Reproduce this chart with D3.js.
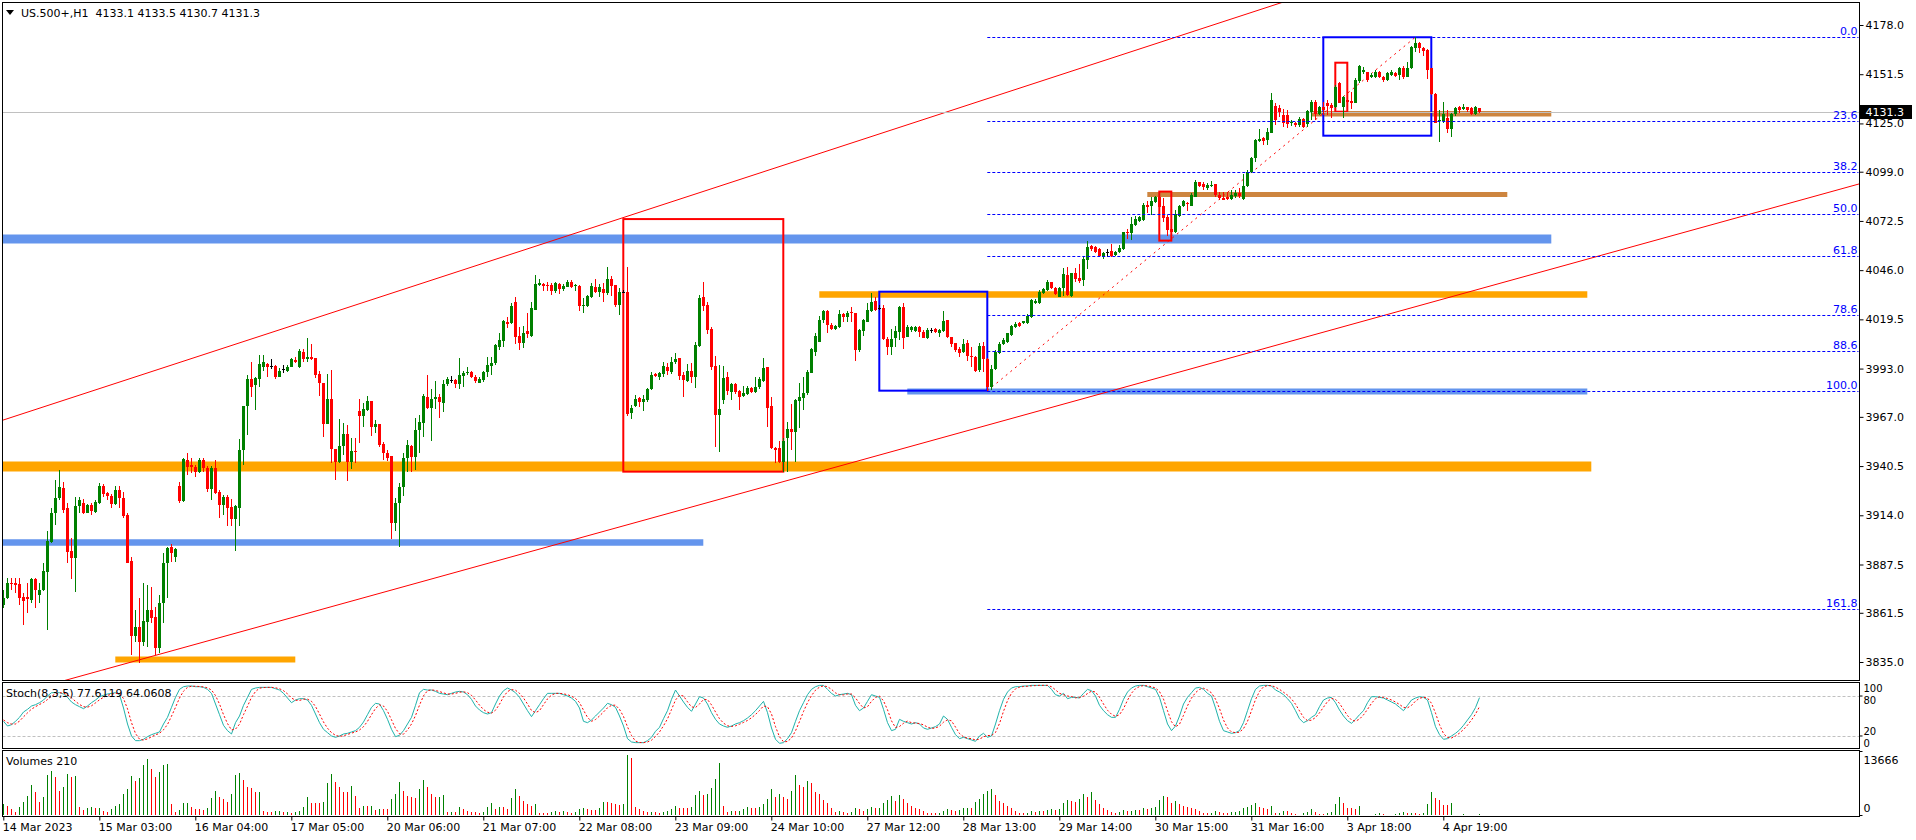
<!DOCTYPE html>
<html>
<head>
<meta charset="UTF-8">
<title>US.500+,H1</title>
<script src="https://cdnjs.cloudflare.com/ajax/libs/d3/7.8.5/d3.min.js"></script>
<style>
  body { margin: 0; padding: 0; background: #ffffff; }
  svg text { font-family: "DejaVu Sans", sans-serif; font-size: 11px; }
</style>
</head>
<body>
<script>
// ---- bars (H1, 14 Mar 02:00 .. 5 Apr) ----
var opens = [
 3865.7,3869.3,3877.4,3877.4,3876.8,3870.2,3869.8,3868.4,3879.7,3871.1,
 3873.8,3883.6,3899.8,3915.1,3923.1,3928.9,3917.8,3895.0,3891.2,3919.0,
 3920.8,3915.4,3919.5,3916.0,3920.6,3929.8,3925.8,3924.6,3920.1,3927.6,
 3923.1,3914.2,3889.6,3849.2,3854.0,3845.9,3856.7,3863.0,3859.4,3842.7,
 3866.6,3888.5,3896.8,3891.7,3930.0,3921.7,3943.8,3941.1,3940.2,3937.5,
 3943.8,3939.3,3928.2,3939.3,3926.7,3919.5,3924.0,3918.6,3912.0,3918.1,
 3949.2,3972.9,3987.4,3984.2,3987.2,3994.0,3995.5,3994.6,3994.6,3988.7,
 3992.6,3991.5,3994.0,3997.6,3993.7,4002.1,3998.3,3999.0,3998.8,3990.0,
 3985.0,3963.1,3976.6,3949.6,3942.8,3951.3,3957.7,3942.8,3948.6,3970.1,
 3967.6,3970.6,3975.5,3961.7,3963.1,3952.3,3947.3,3945.9,3910.0,3920.4,
 3929.0,3944.6,3951.3,3945.5,3959.9,3963.8,3977.8,3971.9,3976.6,3977.8,
 3974.6,3984.5,3986.8,3986.8,3984.6,3989.0,3990.4,3991.1,3988.6,3985.5,
 3986.8,3990.9,3994.5,3995.8,4004.7,4008.0,4018.2,4017.3,4028.8,4010.5,
 4006.9,4013.2,4010.5,4024.5,4038.1,4038.8,4038.0,4038.0,4034.9,4038.8,
 4035.6,4037.1,4039.6,4037.8,4037.6,4026.8,4026.6,4031.7,4036.7,4034.4,
 4035.6,4033.8,4041.2,4038.0,4027.2,4034.0,4034.0,3968.9,3973.0,3976.9,
 3975.1,3976.0,3981.8,3989.9,3988.6,3990.0,3994.0,3991.3,3996.3,3998.5,
 3989.5,3986.4,3991.7,3988.6,4005.1,4031.3,4027.2,4014.3,3994.3,3968.0,
 3976.0,3988.6,3980.5,3984.7,3981.1,3978.2,3979.3,3982.7,3980.2,3982.9,
 3986.4,3993.6,3972.8,3950.0,3950.0,3942.8,3955.8,3960.4,3959.0,3975.7,
 3977.3,3980.0,3990.8,4002.1,4007.5,4019.1,4024.1,4016.4,4014.3,4015.2,
 4022.4,4020.9,4023.6,4022.7,4003.0,4013.4,4018.2,4024.0,4029.4,4025.4,
 4025.4,4008.7,4004.4,4009.2,4012.8,4026.3,4010.2,4013.8,4013.4,4015.6,
 4012.9,4009.3,4013.8,4014.1,4012.3,4013.4,4019.2,4009.8,4006.6,4003.5,
 4001.7,4006.6,3999.9,3999.0,3992.2,4005.3,3998.0,3982.9,3992.8,4001.2,
 4006.2,4007.1,4011.1,4015.6,4017.4,4017.4,4017.4,4020.9,4028.1,4028.1,
 4033.5,4035.3,4039.8,4036.2,4031.7,4036.2,4043.4,4032.3,4044.3,4042.0,
 4040.7,4051.5,4059.0,4058.3,4057.4,4053.3,4056.0,4056.3,4054.2,4055.6,
 4057.4,4066.7,4066.2,4070.3,4072.6,4073.0,4081.1,4080.5,4082.5,4085.2,
 4080.5,4074.8,4068.0,4066.7,4075.3,4080.5,4082.0,4080.7,4085.6,4093.3,
 4092.4,4090.0,4091.5,4092.2,4086.5,4084.7,4085.5,4084.5,4085.9,4087.7,
 4084.1,4091.3,4099.0,4106.2,4115.7,4117.0,4116.1,4120.0,4134.4,4133.1,
 4129.5,4129.5,4125.1,4125.4,4124.0,4127.2,4124.7,4131.3,4136.7,4130.1,
 4133.7,4135.8,4134.9,4134.0,4146.6,4133.7,4137.6,4137.3,4136.2,4148.0,
 4152.5,4152.5,4149.8,4150.2,4152.5,4150.2,4148.4,4151.1,4152.3,4151.1,
 4154.7,4150.2,4154.7,4165.4,4168.1,4165.4,4164.5,4154.7,4140.9,4126.2,
 4126.5,4127.7,4121.8,4130.1,4133.7,4132.6,4133.7,4133.1,4130.1,4133.1];
var highs = [
 3873.8,3880.1,3880.1,3880.1,3880.1,3872.0,3877.4,3880.4,3880.4,3877.4,
 3888.1,3905.5,3917.8,3933.0,3938.4,3932.1,3920.4,3901.6,3924.0,3924.0,
 3922.6,3919.9,3920.4,3922.2,3931.2,3930.7,3926.7,3925.5,3930.0,3930.0,
 3926.7,3915.1,3891.7,3863.0,3869.3,3877.4,3876.5,3875.6,3864.8,3871.1,
 3893.5,3897.1,3898.5,3896.2,3932.1,3944.7,3947.4,3944.7,3941.1,3944.7,
 3944.7,3940.6,3940.6,3943.8,3927.6,3925.1,3925.1,3922.6,3919.5,3954.9,
 3973.1,3989.6,3996.7,3988.7,4000.3,4000.3,3995.8,3998.0,3995.0,3993.1,
 3995.0,3995.0,3998.5,3999.4,4003.4,4003.3,4009.2,4006.0,3998.8,3991.8,
 3985.4,3990.0,3992.2,3949.6,3965.8,3963.5,3962.6,3955.4,3955.4,3976.6,
 3974.2,3978.2,3975.5,3965.3,3963.1,3953.6,3949.1,3945.9,3923.1,3931.2,
 3947.3,3954.5,3951.8,3966.2,3968.0,3979.3,3989.5,3981.8,3986.3,3979.1,
 3986.8,3988.6,3988.9,3987.2,3998.5,3991.8,3994.0,3991.8,3989.5,3988.6,
 3991.8,3999.4,3999.4,4006.5,4011.9,4019.1,4020.9,4028.1,4031.7,4015.5,
 4015.9,4022.7,4028.6,4043.3,4041.5,4039.2,4039.7,4039.2,4039.7,4039.2,
 4038.8,4040.6,4040.6,4038.8,4038.0,4030.8,4032.6,4039.2,4041.5,4038.8,
 4038.9,4047.5,4042.8,4038.0,4036.2,4035.3,4047.5,3973.3,3978.7,3977.8,
 3978.7,3982.7,3991.3,3990.4,3991.3,3996.7,3995.8,3999.4,4001.2,3998.5,
 3991.3,3995.4,3996.1,4007.5,4032.6,4039.8,4029.0,4015.2,3999.7,3994.9,
 3994.3,3990.9,3985.0,3985.0,3981.4,3983.8,3983.6,3983.2,3988.6,3988.6,
 3998.5,3993.6,3977.8,3950.9,3954.0,3955.4,3964.4,3973.9,3976.4,3985.0,
 3988.6,3992.2,4003.9,4011.9,4021.3,4024.5,4024.5,4017.3,4016.4,4024.5,
 4023.1,4024.1,4026.3,4023.1,4014.1,4019.5,4028.1,4033.5,4031.7,4027.2,
 4027.2,4010.1,4014.1,4015.9,4026.7,4028.1,4016.5,4015.9,4015.9,4015.9,
 4013.8,4014.7,4015.0,4014.7,4014.3,4024.0,4019.2,4010.2,4007.0,4004.8,
 4008.7,4008.4,4004.8,3999.8,4006.6,4007.5,3998.5,3994.9,4003.0,4007.5,
 4009.3,4012.3,4016.5,4018.3,4018.3,4018.8,4022.2,4030.3,4030.3,4035.3,
 4036.2,4040.7,4039.8,4037.1,4037.1,4047.0,4047.9,4044.6,4047.0,4049.3,
 4052.9,4061.9,4059.5,4059.0,4057.7,4055.6,4057.2,4059.9,4056.3,4059.5,
 4066.7,4068.0,4074.8,4075.2,4075.2,4082.3,4083.4,4085.6,4085.9,4087.9,
 4084.7,4075.7,4068.5,4078.4,4081.1,4083.8,4082.9,4087.4,4094.5,4093.6,
 4093.6,4092.7,4094.2,4092.2,4088.3,4088.3,4088.3,4089.1,4089.1,4090.0,
 4097.8,4099.9,4107.1,4116.4,4121.8,4117.9,4122.4,4141.6,4135.8,4134.9,
 4132.6,4132.2,4126.8,4126.0,4128.6,4127.7,4132.2,4137.6,4137.6,4134.4,
 4136.7,4137.6,4135.8,4145.7,4147.5,4139.8,4142.1,4142.1,4149.3,4156.5,
 4155.6,4152.9,4152.0,4153.8,4153.4,4150.5,4152.9,4153.8,4152.9,4155.6,
 4155.9,4158.3,4166.7,4171.4,4169.0,4166.3,4164.9,4154.7,4141.2,4132.2,
 4136.7,4132.2,4130.4,4134.0,4134.4,4135.5,4134.0,4134.0,4134.4,4133.5];
var lows = [
 3863.9,3868.8,3873.8,3872.0,3865.7,3854.9,3861.2,3866.6,3863.9,3866.6,
 3873.4,3852.2,3899.3,3908.8,3922.2,3915.1,3888.5,3879.7,3872.9,3915.1,
 3914.7,3915.1,3914.2,3915.4,3920.1,3924.0,3922.2,3917.8,3919.5,3917.8,
 3912.4,3888.5,3838.8,3845.9,3834.3,3843.6,3843.2,3855.8,3838.8,3840.0,
 3855.8,3869.6,3889.0,3889.0,3920.4,3921.3,3935.7,3936.6,3934.8,3936.6,
 3937.5,3926.7,3922.2,3925.5,3912.4,3914.2,3908.1,3908.1,3895.0,3908.2,
 3941.1,3957.2,3977.9,3970.7,3982.9,3991.9,3988.3,3992.6,3987.4,3988.3,
 3990.8,3991.2,3993.7,3996.2,3993.1,3996.7,3996.7,3997.6,3988.1,3978.2,
 3956.3,3962.9,3941.9,3933.0,3941.9,3946.4,3932.6,3938.9,3941.9,3952.7,
 3961.7,3970.1,3956.8,3958.1,3950.9,3943.7,3943.4,3901.5,3905.7,3897.0,
 3924.5,3937.4,3937.4,3938.3,3947.3,3955.9,3971.2,3954.1,3971.5,3966.5,
 3969.7,3983.6,3985.0,3982.3,3981.8,3983.2,3989.5,3987.7,3985.4,3985.0,
 3985.9,3988.2,3989.5,3994.9,4003.0,4004.7,4014.6,4016.8,4006.5,4003.0,
 4004.2,4009.6,4010.1,4024.5,4037.4,4034.9,4034.9,4032.6,4033.5,4033.1,
 4034.9,4036.7,4036.5,4034.9,4024.1,4022.7,4025.9,4030.8,4033.8,4031.7,
 4029.0,4032.6,4032.0,4026.3,4021.8,4033.5,3967.6,3965.8,3972.5,3972.5,
 3970.3,3975.1,3981.4,3988.6,3986.8,3988.2,3989.5,3990.0,3995.4,3986.8,
 3977.5,3985.9,3985.4,3982.3,4004.8,4024.1,4011.6,3992.2,3950.6,3948.2,
 3973.9,3978.7,3976.0,3979.3,3970.7,3977.5,3978.7,3979.6,3979.6,3982.0,
 3985.9,3961.7,3949.5,3941.9,3942.3,3937.4,3937.4,3949.1,3942.8,3960.8,
 3970.7,3978.7,3990.4,3999.7,4007.1,4017.3,4012.3,4013.7,4013.7,4014.6,
 4018.2,4018.2,4018.2,3997.2,4002.1,4010.7,4017.9,4023.6,4024.1,4024.5,
 4008.4,4000.3,4000.3,4004.4,4008.4,4003.5,4009.8,4012.9,4012.9,4010.2,
 4009.3,4008.9,4012.3,4012.0,4010.2,4012.9,4009.3,4004.8,4002.1,3999.4,
 4001.2,3997.3,3994.0,3991.3,3991.3,3991.3,3981.0,3981.5,3992.2,4000.8,
 4005.7,4006.6,4010.7,4015.0,4015.2,4017.0,4017.0,4020.1,4027.8,4027.8,
 4033.2,4034.9,4035.7,4032.6,4031.4,4032.3,4032.3,4031.7,4039.8,4038.9,
 4037.5,4046.4,4056.5,4055.1,4052.9,4052.0,4052.9,4053.3,4053.6,4055.1,
 4056.9,4062.6,4062.2,4069.8,4072.1,4072.6,4077.0,4075.7,4082.0,4079.3,
 4072.1,4064.4,4065.8,4066.2,4074.8,4080.2,4078.0,4080.5,4085.2,4090.6,
 4089.1,4089.1,4091.0,4085.2,4083.8,4083.8,4083.8,4083.8,4084.7,4084.7,
 4083.8,4090.9,4098.1,4104.4,4115.2,4113.4,4113.4,4119.7,4124.2,4128.3,
 4122.9,4122.4,4123.6,4123.3,4122.9,4122.4,4123.3,4126.9,4126.9,4129.5,
 4129.5,4129.5,4127.7,4133.1,4135.8,4127.7,4135.8,4132.6,4135.8,4146.6,
 4151.6,4147.5,4149.3,4149.3,4149.3,4147.5,4148.0,4150.5,4149.8,4148.4,
 4148.7,4149.8,4154.1,4163.6,4163.1,4161.3,4148.7,4140.3,4125.1,4115.2,
 4125.1,4119.7,4117.5,4129.0,4130.8,4132.2,4131.0,4129.5,4129.5,4130.7];
var closes = [
 3869.3,3877.4,3877.0,3876.5,3869.6,3868.0,3868.8,3879.7,3873.8,3873.8,
 3884.0,3900.2,3915.1,3923.1,3929.4,3916.9,3894.4,3891.2,3919.0,3922.2,
 3915.4,3919.5,3916.5,3921.0,3929.8,3925.5,3924.6,3920.1,3927.6,3923.1,
 3913.6,3888.5,3849.2,3854.0,3845.9,3857.3,3863.0,3858.5,3842.7,3866.6,
 3888.5,3896.6,3893.5,3895.9,3921.7,3944.3,3940.2,3939.8,3937.5,3943.8,
 3939.3,3928.2,3939.3,3925.8,3919.5,3924.0,3918.1,3912.0,3919.2,3949.2,
 3972.9,3987.4,3983.3,3988.1,3995.5,3996.4,3994.0,3994.6,3988.7,3991.5,
 3992.6,3994.0,3998.2,3996.7,4002.7,3997.9,3999.0,3998.3,3989.5,3985.4,
 3963.1,3976.6,3949.6,3942.8,3951.3,3957.7,3942.8,3948.6,3948.0,3967.6,
 3971.2,3975.5,3961.3,3963.1,3951.8,3947.3,3945.0,3910.0,3920.4,3929.0,
 3944.6,3951.8,3945.5,3959.9,3964.2,3978.4,3971.9,3976.6,3977.8,3974.8,
 3984.6,3987.3,3986.8,3984.6,3989.5,3990.7,3991.3,3988.6,3986.3,3987.2,
 3991.3,3994.9,3996.1,4005.6,4008.3,4018.6,4017.0,4026.6,4009.8,4006.9,
 4011.9,4011.4,4025.4,4038.5,4039.2,4037.6,4037.4,4034.9,4039.2,4035.6,
 4037.4,4039.6,4037.1,4038.1,4026.8,4027.2,4032.0,4037.4,4034.4,4036.7,
 4033.8,4041.2,4037.6,4027.2,4034.4,4034.0,3968.5,3971.6,3976.6,3975.1,
 3976.4,3981.9,3989.5,3989.1,3990.4,3994.3,3991.8,3996.3,3998.1,3989.1,
 3986.8,3991.7,3988.2,4005.7,4031.1,4026.8,4013.7,3993.6,3968.0,3971.0,
 3988.1,3981.1,3984.7,3980.5,3977.8,3980.0,3982.7,3980.2,3983.2,3987.2,
 3993.4,3971.9,3950.0,3949.1,3942.8,3954.0,3960.4,3959.0,3976.0,3977.5,
 3980.0,3991.3,4003.3,4010.7,4019.1,4024.1,4016.4,4014.3,4015.9,4022.4,
 4020.9,4022.7,4022.7,4003.0,4013.7,4019.1,4024.5,4029.0,4024.5,4025.4,
 4008.7,4004.4,4008.9,4013.2,4026.3,4009.6,4015.6,4015.2,4015.6,4012.9,
 4009.6,4013.8,4013.8,4012.5,4013.8,4018.8,4009.8,4006.2,4003.0,4001.6,
 4006.2,3999.9,3999.4,3991.9,4005.3,3998.0,3982.9,3992.8,4002.1,4006.2,
 4008.4,4012.0,4015.9,4016.8,4015.9,4018.6,4021.5,4029.9,4029.6,4034.4,
 4035.7,4039.8,4036.2,4033.2,4036.6,4043.9,4032.6,4044.3,4041.2,4040.3,
 4052.0,4058.6,4057.2,4056.0,4053.6,4055.1,4056.0,4053.8,4056.0,4058.1,
 4066.4,4066.2,4070.9,4073.5,4074.4,4081.1,4080.2,4083.4,4085.2,4079.8,
 4074.1,4067.6,4066.7,4076.1,4080.7,4083.2,4081.4,4086.5,4093.3,4091.3,
 4090.6,4091.8,4091.8,4086.5,4084.7,4083.8,4084.5,4086.5,4087.7,4085.9,
 4091.3,4099.0,4106.2,4116.1,4116.4,4115.7,4120.6,4137.6,4126.8,4131.3,
 4125.1,4124.7,4126.0,4124.0,4127.2,4122.9,4131.9,4136.7,4130.1,4133.7,
 4132.2,4134.4,4133.1,4144.8,4135.8,4139.1,4136.7,4136.2,4148.4,4155.9,
 4153.8,4148.4,4151.1,4152.9,4149.8,4148.4,4152.3,4152.9,4150.7,4154.7,
 4150.2,4154.7,4166.0,4168.1,4165.4,4164.0,4153.8,4140.9,4125.4,4126.9,
 4130.1,4121.8,4130.1,4133.1,4132.2,4134.0,4132.2,4130.1,4134.0,4131.3];

var volumes = [
 2350,2000,1280,710,1640,2850,4130,6400,4840,2700,
 3770,8540,9470,8190,5200,5900,8760,8050,8400,1780,
 1070,1420,1640,1420,1500,930,570,1280,1850,2350,
 4490,5550,8260,7330,7830,10680,11960,9830,8050,9110,
 10680,10890,2350,570,1070,2560,2600,1640,1280,1280,
 1140,1420,3560,5200,3920,3420,2850,4490,8540,8970,
 7550,5900,5700,4840,4900,930,710,570,780,930,
 570,710,430,570,780,1780,3920,2560,2560,2560,
 2850,6840,8760,6980,5900,4980,4840,6120,4130,1420,
 1850,1850,2000,1140,1280,1280,1280,3420,4490,7120,
 5200,4130,3770,3560,5550,7550,5900,4490,3770,3800,
 4270,570,710,570,1640,1280,930,710,570,430,
 570,1640,2560,1280,1640,1640,1280,3560,5550,4130,
 3060,2350,2000,2350,430,430,430,710,930,570,
 930,570,430,570,1280,1420,1280,1140,1140,1420,
 2850,2850,2560,2350,2140,2300,12820,12180,1800,1200,
 930,570,710,570,430,570,930,1280,2000,1420,
 1420,1420,1640,4270,5200,4270,4490,5700,7690,11110,
 2000,710,930,780,930,1280,1640,1600,1400,1700,
 2300,3500,5500,3800,4500,3800,3500,5200,8600,6500,
 6000,7200,6800,5000,4500,3200,2600,1500,700,800,
 600,500,700,1500,1200,900,1300,1800,1500,1600,
 2500,3200,4000,3000,4200,3500,2500,2000,1500,1200,
 800,500,400,400,500,900,1200,1000,900,1000,
 1400,1600,1500,2800,3500,4500,5200,5500,4200,3000,
 2500,2000,1600,800,500,400,500,900,700,900,
 800,1000,1200,1100,1300,2500,3200,3000,2800,3500,
 4500,3800,5000,3200,2400,1500,1000,700,500,600,
 1000,800,900,1100,1000,1400,1200,1600,1800,3200,
 4000,3800,2600,3000,2400,2000,1800,1500,1200,900,
 500,400,500,800,600,500,400,600,700,900,
 1500,1800,2200,2500,1800,1400,1200,2000,360,500,
 930,930,360,210,100,360,710,1210,710,210,
 180,500,710,2280,3910,2630,1560,1560,1210,1990,
 100,60,100,210,360,140,60,100,210,360,
 710,360,500,360,210,500,2280,4980,3700,3200,
 2100,2100,2630,100,60,140,100,80,60,210];

var stochMain = [
 42,35,37,42,48,56,60,65,67,70, 74,80,85,85,85,83,78,71,67,64,
 61,65,70,74,79,81,83,84,85,82, 62,38,20,13,13,15,19,22,24,26,
 38,48,63,78,90,94,95,95,94,94, 93,90,84,68,52,36,28,23,40,50,
 66,78,90,92,93,93,93,93,91,89, 84,77,70,74,76,76,74,66,53,40,
 30,25,20,18,20,23,24,26,28,33, 41,52,63,69,68,58,45,30,19,21,
 28,38,48,66,85,90,89,89,87,84, 83,82,84,86,87,86,82,75,65,59,
 55,53,55,68,80,88,92,89,85,78, 68,58,49,58,67,76,84,84,84,84,
 82,80,77,72,62,42,40,44,50,56, 62,69,67,63,50,35,16,11,10,10,
 10,13,18,27,33,46,58,75,89,80, 71,63,57,68,79,77,68,55,45,38,
 35,33,35,38,40,43,47,52,58,65, 72,55,32,15,9,10,16,25,42,58,
 70,82,90,94,96,96,90,84,80,82, 83,84,82,66,58,62,72,82,80,78,
 60,40,28,30,45,42,40,38,40,38, 32,30,32,34,38,50,45,33,22,16,
 18,16,14,12,20,24,18,20,38,58, 75,86,92,94,94,95,95,96,96,96,
 96,96,90,82,80,84,76,78,78,77, 84,90,88,80,66,58,52,48,48,60,
 75,86,92,95,96,96,94,92,90,78, 58,38,28,35,50,68,78,85,92,93,
 90,84,80,62,42,28,26,24,25,28, 40,58,76,90,95,96,96,95,89,86,
 82,76,69,58,46,40,43,48,52,64, 74,77,78,70,59,50,43,39,45,52,
 58,70,79,79,78,77,74,71,68,63, 58,66,74,77,79,78,74,55,34,22,
 15,16,20,24,29,36,44,52,62.6,77.6];
var stochSignal = [
 44,40,38,38,42.3,48.7,54.7,60.3,64,67.3, 70.3,74.7,79.7,83.3,85,84.3,82,77.3,72,67.3,
 64,63.3,65.3,69.7,74.3,78,81,82.7,84,83.7, 76.3,60.7,40,23.7,15.3,13.7,15.7,18.7,21.7,24,
 29.3,37.3,49.7,63,77,87.3,93,94.7,94.7,94.3, 93.7,92.3,89,80.7,68,52,38.7,29,30.3,37.7,
 52,64.7,78,86.7,91.7,92.7,93,93,92.3,91, 88,83.3,77,73.7,73.3,75.3,75.3,72,64.3,53,
 41,31.7,25,21,19.3,20.3,22.3,24.3,26,29, 34,42,52,61.3,66.7,65,57,44.3,31.3,23.3,
 22.7,29,38,50.7,66.3,80.3,88,89.3,88.3,86.7, 84.7,83,83,84,85.7,86.3,85,81,74,66.3,
 59.7,55.7,54.3,58.7,67.7,78.7,86.7,89.7,88.7,84, 77,68,58.3,55,58,67,75.7,81.3,84,84,
 83.3,82,79.7,76.3,70.3,58.7,48,42,44.7,50, 56,62.3,66,66.3,60,49.3,33.7,20.7,12.3,10.3,
 10,11,13.7,19.3,26,35.3,45.7,59.7,74,81.3, 80,71.3,63.7,62.7,68,74.7,74.7,66.7,56,46,
 39.3,35.3,34.3,35.3,37.7,40.3,43.3,47.3,52.3,58.3, 65,64,53,34,18.7,11.3,11.7,17,27.7,41.7,
 56.7,70,80.7,88.7,93.3,95.3,94,90,84.7,82, 81.7,83,83,77.3,68.7,62,64,72,78,80,
 72.7,59.3,42.7,32.7,34.3,39,42.3,40,39.3,38.7, 36.7,33.3,31.3,32,34.7,40.7,44.3,42.7,33.3,23.7,
 18.7,16.7,16,14,15.3,18.7,20.7,20.7,25.3,38.7, 57,73,84.3,90.7,93.3,94.3,94.7,95.3,95.7,96,
 96,96,94,89.3,84,82,80,79.3,77.3,77.7, 79.7,83.7,87.3,86,78,68,58.7,52.7,49.3,52,
 61,73.7,84.3,91,94.3,95.7,95.3,94,92,86.7, 75.3,58,41.3,33.7,37.7,51,65.3,77,85,90,
 91.7,89,84.7,75.3,61.3,44,32,26,25,25.7, 31,42,58,74.7,87,93.7,95.7,95.7,93.3,90,
 85.7,81.3,75.7,67.7,57.7,48,43,43.7,47.7,54.7, 63.3,71.7,76.3,75,69,59.7,50.7,44,42.3,45.3,
 51.7,60,69,76,78.7,78,76.3,74,71,67.3, 63,62.3,66,72.3,76.7,78,77,69,54.3,37,
 23.7,17.7,17,20,24.3,29.7,36.3,44,52.9,64.06];

var priceTicks = [4178.0, 4151.5, 4125.0, 4099.0, 4072.5, 4046.0, 4019.5, 3993.0,
                  3967.0, 3940.5, 3914.0, 3887.5, 3861.5, 3835.0];
var timeLabels = ["14 Mar 2023", "15 Mar 03:00", "16 Mar 04:00", "17 Mar 05:00", "20 Mar 06:00",
                  "21 Mar 07:00", "22 Mar 08:00", "23 Mar 09:00", "24 Mar 10:00", "27 Mar 12:00",
                  "28 Mar 13:00", "29 Mar 14:00", "30 Mar 15:00", "31 Mar 16:00", "3 Apr 18:00",
                  "4 Apr 19:00"];
var timeLabelBars = [0, 24, 48, 72, 96, 120, 144, 168, 192, 216, 240, 264, 288, 312, 336, 360];
var stochScale = ["100", "80", "20", "0"];
var volScale = ["13666", "0"];

// chart objects: horizontal levels (price, from bar, to bar)
var levelPrices = [4062.8, 4032.9, 3980.7, 3940.3, 3899.4, 3836.3, 4086.7, 4130.2];
var levelFrom   = [-2, 204, 226, -2, -2, 28, 286, 327];
var levelTo     = [387, 396, 396, 397, 175, 73, 376, 387];
// rectangles (from bar, to bar, top price, bottom price)
var boxFrom = [155, 219, 330, 333, 289];
var boxTo   = [195, 246, 357, 336, 292];
var boxTop  = [4073.5, 4034.4, 4171.4, 4157.7, 4088.3];
var boxBot  = [3937.5, 3981.1, 4118.4, 4131.3, 4061.9];
// channel trend lines: two anchor points each [bar, price]
var upperLine = [[0, 3965.3], [300, 4176.3]];
var lowerLine = [[0, 3815.9], [400, 4054.3]];
// fibonacci retracement
var fibLow = [246, 3981.0], fibHigh = [353, 4171.4];
var fibLevels = [0, 23.6, 38.2, 50, 61.8, 78.6, 88.6, 100, 161.8];

// ---- layout ----
var W = 1916, H = 840;
var L = 2.5, R = 1859.5;
var mainT = 2.5, mainB = 680.5, stT = 682.5, stB = 748.5, vT = 750.5, vB = 816.5;

var svg = d3.select("body").append("svg")
    .attr("width", W).attr("height", H)
    .style("display", "block");

var x = d3.scaleLinear().domain([0, closes.length - 1]).range([3.3, 3.3 + 4 * (closes.length - 1)]);
function bx(i) { return Math.floor(x(i)) + 0.5; }
var y = d3.scaleLinear().domain([3835, 4178]).range([662, 25]);
var ys = d3.scaleLinear().domain([0, 100]).range([749.3, 682.7]);
var yv = d3.scaleLinear().domain([0, 13666]).range([815, 751]);

var defs = svg.append("defs");
function clip(id, t, b) {
  defs.append("clipPath").attr("id", id).append("rect")
    .attr("x", L).attr("y", t).attr("width", R - L).attr("height", b - t);
}
clip("cMain", mainT, mainB); clip("cSt", stT, stB); clip("cVol", vT, vB);

var main = svg.append("g").attr("clip-path", "url(#cMain)");

// thick levels
var levelColor = ["#6495ED", "#FFA500", "#6495ED", "#FFA500", "#6495ED", "#FFA500", "#CD853F", "#CD853F"];
var levelWidth = [9, 6.5, 6, 10, 6.5, 6, 5, 5.5];
main.selectAll("line.level").data(levelPrices).join("line")
  .attr("class", "level")
  .attr("x1", (d, i) => x(levelFrom[i])).attr("x2", (d, i) => x(levelTo[i]))
  .attr("y1", d => y(d)).attr("y2", d => y(d))
  .attr("stroke", (d, i) => levelColor[i])
  .attr("stroke-width", (d, i) => levelWidth[i]);

// rectangles
var boxColor = ["#FF0000", "#0000FF", "#0000FF", "#FF0000", "#FF0000"];
main.selectAll("rect.box").data(boxFrom).join("rect")
  .attr("class", "box")
  .attr("x", (d, i) => x(boxFrom[i])).attr("width", (d, i) => x(boxTo[i]) - x(boxFrom[i]))
  .attr("y", (d, i) => y(boxTop[i])).attr("height", (d, i) => y(boxBot[i]) - y(boxTop[i]))
  .attr("fill", "none").attr("stroke", (d, i) => boxColor[i]).attr("stroke-width", 2);

// channel lines, extended both ways as rays
function ray(p) {
  var k = (p[1][1] - p[0][1]) / (p[1][0] - p[0][0]);
  return [[-20, p[0][1] + k * (-20 - p[0][0])], [480, p[0][1] + k * (480 - p[0][0])]];
}
[upperLine, lowerLine].forEach(function (p) {
  var r = ray(p);
  main.append("line")
    .attr("x1", x(r[0][0])).attr("y1", y(r[0][1]))
    .attr("x2", x(r[1][0])).attr("y2", y(r[1][1]))
    .attr("stroke", "#FF0000").attr("stroke-width", 1);
});

// fibonacci
var fibRange = fibHigh[1] - fibLow[1];
var fibG = svg.append("g");
fibLevels.forEach(function (lv) {
  var p = fibHigh[1] - fibRange * lv / 100;
  var yy = Math.round(y(p)) + 0.5;
  fibG.append("line")
    .attr("x1", x(fibLow[0])).attr("x2", R - 1)
    .attr("y1", yy).attr("y2", yy)
    .attr("stroke", "#0000FF").attr("stroke-width", 1)
    .attr("stroke-dasharray", "3,2");
  fibG.append("text")
    .attr("x", R - 2).attr("y", yy - 2.5)
    .attr("text-anchor", "end").attr("fill", "#0000FF")
    .text(lv.toFixed(1));
});
main.append("line")
  .attr("x1", x(fibLow[0])).attr("y1", y(fibLow[1]))
  .attr("x2", x(fibHigh[0])).attr("y2", y(fibHigh[1]))
  .attr("stroke", "#FF0000").attr("stroke-width", 1).attr("stroke-dasharray", "2,4");

// bid line
var last = closes[closes.length - 1];
main.append("line")
  .attr("x1", L).attr("x2", R).attr("y1", Math.round(y(last)) + 0.5).attr("y2", Math.round(y(last)) + 0.5)
  .attr("stroke", "#C0C0C0").attr("stroke-width", 1);

// candles
var bars = closes.map((c, i) => ({ i: i, o: opens[i], h: highs[i], l: lows[i], c: c }));
function candleColor(d) { return d.c > d.o ? "#008000" : (d.c < d.o ? "#FF0000" : "#000000"); }
var cg = main.append("g").attr("shape-rendering", "crispEdges");
cg.selectAll("line").data(bars).join("line")
  .attr("x1", d => bx(d.i)).attr("x2", d => bx(d.i))
  .attr("y1", d => y(d.h)).attr("y2", d => y(d.l))
  .attr("stroke", candleColor).attr("stroke-width", 1);
cg.selectAll("rect").data(bars).join("rect")
  .attr("x", d => bx(d.i) - 1.5).attr("width", 3)
  .attr("y", d => Math.min(y(d.o), y(d.c)))
  .attr("height", d => Math.max(1, Math.abs(y(d.o) - y(d.c))))
  .attr("fill", candleColor);

// stochastic panel
var st = svg.append("g").attr("clip-path", "url(#cSt)");
[80, 20].forEach(function (lv) {
  st.append("line").attr("x1", L).attr("x2", R)
    .attr("y1", Math.round(ys(lv)) + 0.5).attr("y2", Math.round(ys(lv)) + 0.5)
    .attr("stroke", "#C0C0C0").attr("stroke-dasharray", "3,2");
});
var sLine = d3.line().x((d, i) => bx(i)).y(d => ys(d));
st.append("path").datum(stochMain).attr("d", sLine)
  .attr("fill", "none").attr("stroke", "#20B2AA").attr("stroke-width", 1);
st.append("path").datum(stochSignal).attr("d", sLine)
  .attr("fill", "none").attr("stroke", "#FF0000").attr("stroke-width", 1).attr("stroke-dasharray", "2,2");

// volumes panel
var vg = svg.append("g").attr("clip-path", "url(#cVol)").attr("shape-rendering", "crispEdges");
vg.selectAll("line").data(volumes).join("line")
  .attr("x1", (d, i) => bx(i)).attr("x2", (d, i) => bx(i))
  .attr("y1", yv(0)).attr("y2", d => yv(d))
  .attr("stroke", (d, i) => (i === 0 || d > volumes[i - 1]) ? "#008000" : "#FF0000");

// panel frames
var frame = svg.append("g").attr("fill", "none").attr("stroke", "#000").attr("stroke-width", 1)
  .attr("shape-rendering", "crispEdges");
[[mainT, mainB], [stT, stB], [vT, vB]].forEach(function (p) {
  frame.append("rect").attr("x", L).attr("y", p[0]).attr("width", R - L).attr("height", p[1] - p[0]);
});

// price axis
var ay = svg.append("g").attr("transform", "translate(" + R + ",0)")
  .call(d3.axisRight(y).tickValues(priceTicks).tickSize(4).tickFormat(d3.format(".1f")));
ay.select(".domain").remove();
ay.selectAll("text").attr("font-family", "DejaVu Sans").attr("font-size", 11).attr("fill", "#000").attr("x", 6);
ay.selectAll("line").attr("stroke", "#000");

// current price tag
var ly = Math.round(y(last));
svg.append("rect").attr("x", R + 0.5).attr("y", ly - 7).attr("width", 52).attr("height", 14).attr("fill", "#000");
svg.append("text").attr("x", R + 6).attr("y", ly).attr("dy", "0.35em").attr("fill", "#fff")
  .text(last.toFixed(1));

// stoch / volume scale labels (kept inside each small panel, just clear of each other)
var side = svg.append("g").attr("fill", "#000");
var stochLabelY = [688, 700.5, 731, 743];
stochScale.forEach(function (t, i) {
  side.append("text").attr("x", R + 4).attr("y", stochLabelY[i]).attr("dy", "0.35em")
    .attr("font-size", 10).style("font-size", "10px").text(t);
});
var volLabelY = [760, 808];
volScale.forEach(function (t, i) {
  side.append("text").attr("x", R + 4).attr("y", volLabelY[i]).attr("dy", "0.35em").text(t);
});
[ys(80), ys(20), vT + 1, vB - 1].forEach(function (yy) {
  side.append("line").attr("x1", R).attr("x2", R + 3).attr("y1", yy).attr("y2", yy).attr("stroke", "#000");
});

// time axis
var ax = svg.append("g").attr("transform", "translate(0," + vB + ")")
  .call(d3.axisBottom(x).tickValues(timeLabelBars).tickSize(4).tickFormat((d, i) => timeLabels[i]));
ax.select(".domain").remove();
ax.selectAll("text").attr("font-family", "DejaVu Sans").attr("font-size", 11).attr("fill", "#000")
  .attr("text-anchor", "start").attr("x", -1);
ax.selectAll("line").attr("stroke", "#000");

// captions
svg.append("path").attr("d", "M6,10 L14,10 L10,15 Z").attr("fill", "#000");
svg.append("text").attr("x", 21).attr("y", 17).attr("fill", "#000")
  .text("US.500+,H1  4133.1 4133.5 4130.7 4131.3").attr("xml:space", "preserve").style("white-space", "pre");
svg.append("text").attr("x", 6).attr("y", 697).attr("fill", "#000")
  .text("Stoch(8,3,5) 77.6119 64.0608");
svg.append("text").attr("x", 6).attr("y", 765).attr("fill", "#000")
  .text("Volumes 210");
</script>
</body>
</html>
